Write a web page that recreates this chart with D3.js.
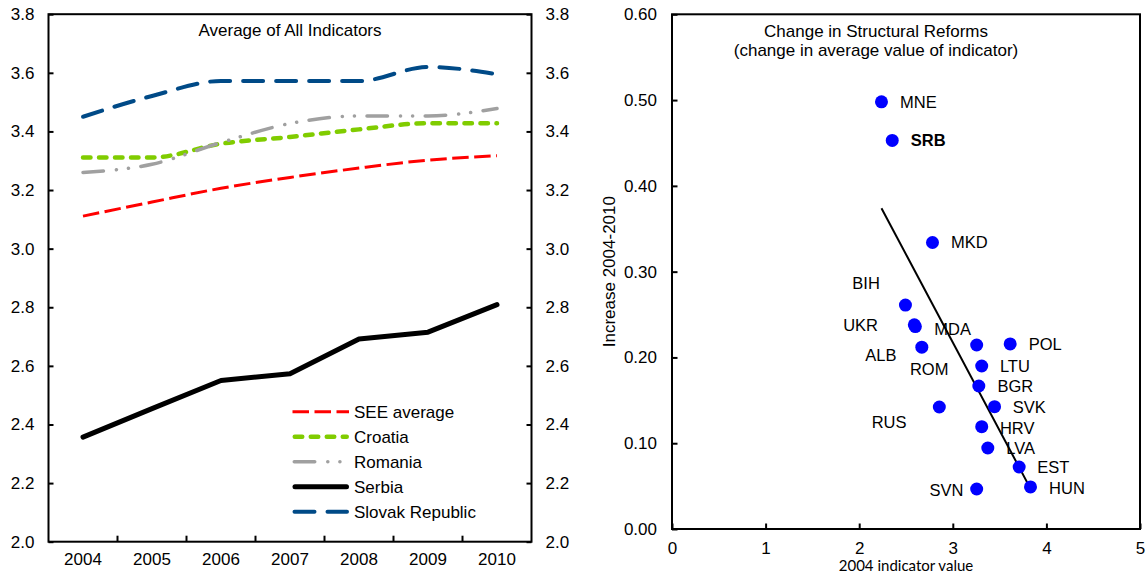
<!DOCTYPE html>
<html>
<head>
<meta charset="utf-8">
<script src="https://cdn.jsdelivr.net/npm/d3@7"></script>
<style>
  body { margin: 0; background: #fff; }
  svg text { font-family: "Liberation Sans", Arial, sans-serif; fill: #000; }
</style>
</head>
<body>
<svg id="chart" width="1148" height="573"></svg>
<script>
// ---------- Left panel: average of all indicators, 2004-2010 ----------
const years = ["2004", "2005", "2006", "2007", "2008", "2009", "2010"];
const seeAverage = [3.111, 3.159, 3.206, 3.243, 3.275, 3.302, 3.317];
const croatia    = [3.311, 3.311, 3.358, 3.381, 3.407, 3.428, 3.428];
const romania    = [3.260, 3.288, 3.362, 3.427, 3.453, 3.453, 3.478];
const serbia     = [2.357, 2.454, 2.550, 2.573, 2.692, 2.715, 2.809];
const slovakia   = [3.450, 3.521, 3.572, 3.572, 3.572, 3.620, 3.595];
const seriesNames = ["SEE average", "Croatia", "Romania", "Serbia", "Slovak Republic"];
const levelTicks = [2.0, 2.2, 2.4, 2.6, 2.8, 3.0, 3.2, 3.4, 3.6, 3.8];

// ---------- Right panel: change in structural reforms ----------
const countries = ["MNE", "SRB", "MKD", "BIH", "UKR", "MDA", "ALB", "ROM", "POL",
                   "LTU", "BGR", "RUS", "SVK", "HRV", "LVA", "EST", "HUN", "SVN"];
const level2004 = [2.238, 2.353, 2.783, 2.494, 2.589, 2.600, 2.669, 3.255, 3.613,
                   3.309, 3.278, 2.856, 3.446, 3.309, 3.374, 3.709, 3.830, 3.255];
const increase  = [0.498, 0.453, 0.334, 0.261, 0.238, 0.236, 0.212, 0.2145, 0.2157,
                   0.190, 0.1667, 0.1422, 0.1426, 0.1193, 0.0944, 0.0723, 0.049, 0.0466];
const increaseTicks = [0, 0.1, 0.2, 0.3, 0.4, 0.5, 0.6];
const levelAxisTicks = [0, 1, 2, 3, 4, 5];
// fitted trend line: increase = intercept + slope * level
const trendIntercept = 0.8334;
const trendSlope = -0.2053;

const svg = d3.select("#chart");
svg.append("rect").attr("width", 1148).attr("height", 573).attr("fill", "#fff");

const FONT = 17;        // axis ticks, titles, legend
const LABEL_FONT = 16.5; // country labels

// ================= Left panel =================
const L = { left: 48.5, right: 531.5, top: 14.2, bottom: 541.7 };
const xL = d3.scaleBand().domain(years).range([L.left, L.right]).padding(0);
const yL = d3.scaleLinear().domain([2.0, 3.8]).range([L.bottom, L.top]);
const gL = svg.append("g");

const styles = {
  "SEE average":     { color: "#FF0000", width: 3,   dash: "16.5,5.5", cap: "butt",  curve: d3.curveMonotoneX },
  "Croatia":         { color: "#80CC00", width: 4.5, dash: "7.5,8.5",  cap: "round", curve: d3.curveMonotoneX },
  "Romania":         { color: "#A0A0A0", width: 3.5, dash: "20.5,13,0.1,12,0.1,12.5", cap: "round", curve: d3.curveMonotoneX },
  "Serbia":          { color: "#000000", width: 5,   dash: null,       cap: "round", curve: d3.curveLinear },
  "Slovak Republic": { color: "#004A87", width: 4,   dash: "20,13",    cap: "round", curve: d3.curveMonotoneX }
};
const seriesValues = {
  "SEE average": seeAverage, "Croatia": croatia, "Romania": romania,
  "Serbia": serbia, "Slovak Republic": slovakia
};

// axes (ticks point inward)
const axL = gL.append("g").attr("transform", `translate(${L.left},0)`)
  .call(d3.axisLeft(yL).tickValues(levelTicks).tickFormat(d3.format(".1f")).tickSize(-5).tickPadding(14));
const axR = gL.append("g").attr("transform", `translate(${L.right},0)`)
  .call(d3.axisRight(yL).tickValues(levelTicks).tickFormat(d3.format(".1f")).tickSize(-5).tickPadding(14));
const axB = gL.append("g").attr("transform", `translate(0,${L.bottom})`)
  .call(d3.axisBottom(xL).tickSize(0).tickPadding(11.5));
[axL, axR, axB].forEach(a => {
  a.select(".domain").remove();
  a.selectAll(".tick line").attr("stroke", "#000").attr("stroke-width", 2);
  a.selectAll(".tick text").attr("font-size", FONT).attr("font-family", "Liberation Sans, Arial, sans-serif").attr("fill", "#000");
});
// year separators on the bottom axis
gL.append("g").selectAll("line").data(years.slice(1)).join("line")
  .attr("x1", d => xL(d)).attr("x2", d => xL(d))
  .attr("y1", L.bottom).attr("y2", L.bottom - 6)
  .attr("stroke", "#000").attr("stroke-width", 2);

gL.append("rect")
  .attr("x", L.left).attr("y", L.top)
  .attr("width", L.right - L.left).attr("height", L.bottom - L.top)
  .attr("fill", "none").attr("stroke", "#000").attr("stroke-width", 2);

gL.append("text").attr("x", (L.left + L.right) / 2).attr("y", 35.5)
  .attr("text-anchor", "middle").attr("font-size", FONT)
  .text("Average of All Indicators");

// series lines
seriesNames.forEach(name => {
  const s = styles[name];
  const line = d3.line()
    .x((d, i) => xL(years[i]) + xL.bandwidth() / 2)
    .y(d => yL(d))
    .curve(s.curve);
  gL.append("path")
    .datum(seriesValues[name])
    .attr("d", line)
    .attr("fill", "none")
    .attr("stroke", s.color)
    .attr("stroke-width", s.width)
    .attr("stroke-linecap", s.cap)
    .attr("stroke-linejoin", "round")
    .attr("stroke-dasharray", s.dash);
});

// legend
const legend = gL.append("g");
seriesNames.forEach((name, i) => {
  const s = styles[name];
  const yy = 411.7 + i * 25;
  const capPad = s.cap === "round" ? s.width / 2 : 0;
  legend.append("line")
    .attr("x1", 292.5 + capPad).attr("x2", 349 - capPad)
    .attr("y1", yy).attr("y2", yy)
    .attr("stroke", s.color).attr("stroke-width", s.width)
    .attr("stroke-linecap", s.cap).attr("stroke-dasharray", s.dash);
  legend.append("text")
    .attr("x", 354).attr("y", yy).attr("dy", "0.36em")
    .attr("font-size", FONT).text(name);
});

// ================= Right panel =================
const R = { left: 672, right: 1140, top: 14.3, bottom: 529 };
const xR = d3.scaleLinear().domain([0, 5]).range([R.left, R.right]);
const yR = d3.scaleLinear().domain([0, 0.6]).range([R.bottom, R.top]);
const gR = svg.append("g");

const ayR = gR.append("g").attr("transform", `translate(${R.left},0)`)
  .call(d3.axisLeft(yR).tickValues(increaseTicks).tickFormat(d3.format(".2f")).tickSize(-5.5).tickPadding(15));
const axRb = gR.append("g").attr("transform", `translate(0,${R.bottom})`)
  .call(d3.axisBottom(xR).tickValues(levelAxisTicks).tickFormat(d3.format("d")).tickSize(-5.5).tickPadding(12.5));
[ayR, axRb].forEach(a => {
  a.select(".domain").remove();
  a.selectAll(".tick line").attr("stroke", "#000").attr("stroke-width", 2);
  a.selectAll(".tick text").attr("font-size", FONT).attr("font-family", "Liberation Sans, Arial, sans-serif").attr("fill", "#000");
});

gR.append("rect")
  .attr("x", R.left).attr("y", R.top)
  .attr("width", R.right - R.left).attr("height", R.bottom - R.top)
  .attr("fill", "none").attr("stroke", "#000").attr("stroke-width", 2);

gR.append("text").attr("x", 876).attr("y", 36.5).attr("text-anchor", "middle")
  .attr("font-size", FONT).text("Change in Structural Reforms");
gR.append("text").attr("x", 876).attr("y", 55.5).attr("text-anchor", "middle")
  .attr("font-size", FONT).text("(change in average value of indicator)");

gR.append("text")
  .attr("transform", `translate(609,${(R.top + R.bottom) / 2}) rotate(-90)`)
  .attr("text-anchor", "middle").attr("dy", "0.36em")
  .attr("font-size", FONT).text("Increase 2004-2010");

gR.append("text")
  .attr("x", (R.left + R.right) / 2).attr("y", 571)
  .attr("text-anchor", "middle")
  .style("font-family", "Lato, 'Open Sans', sans-serif")
  .attr("font-size", 15).text("2004 indicator value");

// points
const pts = countries.map((c, i) => ({ c, x: level2004[i], y: increase[i] }));

// trend line across the range of 2004 levels
const ext = d3.extent(level2004);
gR.append("line")
  .attr("x1", xR(ext[0])).attr("y1", yR(trendIntercept + trendSlope * ext[0]))
  .attr("x2", xR(ext[1])).attr("y2", yR(trendIntercept + trendSlope * ext[1]))
  .attr("stroke", "#000").attr("stroke-width", 2);

gR.append("g").selectAll("circle").data(pts).join("circle")
  .attr("cx", d => xR(d.x)).attr("cy", d => yR(d.y))
  .attr("r", 6.5).attr("fill", "#0000FF");

// label placement: [dx, dy, anchor]
const labelPos = {
  MNE: [18.6, 0, "start"], SRB: [18.6, 0, "start"], MKD: [18.6, 0, "start"],
  BIH: [-25.6, -21.7, "end"], UKR: [-36.3, 0, "end"], MDA: [18.9, 2.7, "start"],
  ALB: [-25.3, 8, "end"], ROM: [-28.2, 24.3, "end"], POL: [18.5, 0, "start"],
  LTU: [18.2, 0, "start"], BGR: [18.6, 0, "start"], RUS: [-32.8, 14.7, "end"],
  SVK: [18.2, 0, "start"], HRV: [18.2, 1, "start"], LVA: [18.5, 0, "start"],
  EST: [18.2, 0, "start"], HUN: [18.6, 1, "start"], SVN: [-13.2, 1, "end"]
};
gR.append("g").selectAll("text").data(pts).join("text")
  .attr("x", d => xR(d.x) + labelPos[d.c][0])
  .attr("y", d => yR(d.y) + labelPos[d.c][1])
  .attr("dy", "0.36em")
  .attr("text-anchor", d => labelPos[d.c][2])
  .attr("font-size", LABEL_FONT)
  .attr("font-weight", d => d.c === "SRB" ? "bold" : "normal")
  .text(d => d.c);
</script>
</body>
</html>
